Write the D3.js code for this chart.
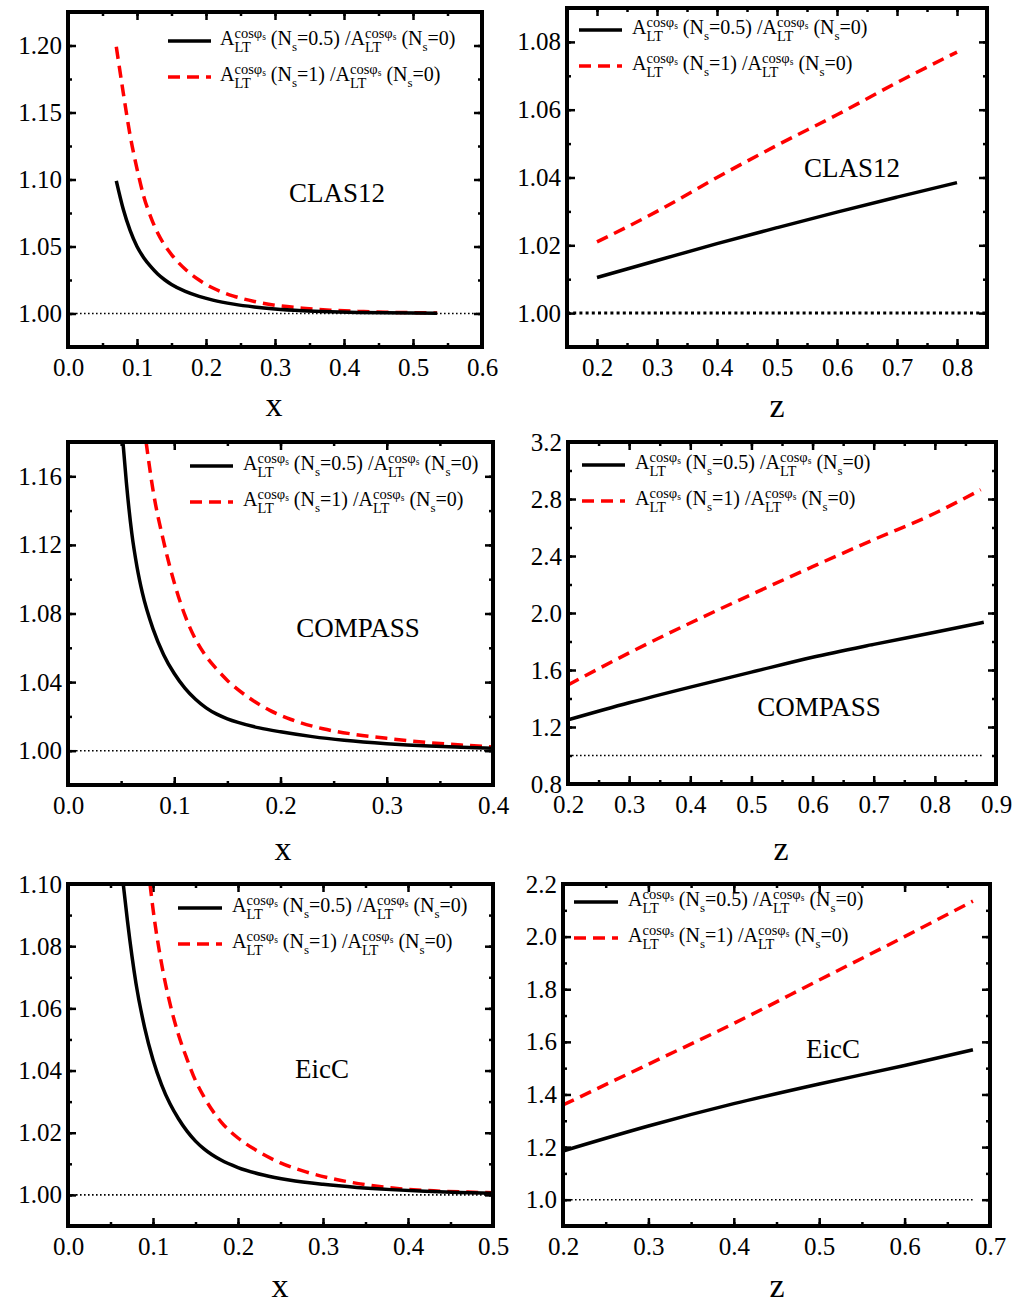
<!DOCTYPE html>
<html>
<head>
<meta charset="utf-8">
<script src="https://cdn.jsdelivr.net/npm/d3@7"></script>
<style>
  body { margin: 0; background: #fff; }
  svg { display: block; font-family: "Liberation Serif", "Times New Roman", serif; }
  text { white-space: pre; }
</style>
</head>
<body>
<svg id="chart" width="1022" height="1305"></svg>
<script>
// ---- data: [x or z, ratio] ----
const clasXHalf = [[0.07,1.099],[0.08,1.078],[0.09,1.062],[0.10,1.050],[0.11,1.0415],[0.12,1.035],[0.13,1.0295],[0.14,1.0252],[0.15,1.0217],[0.17,1.0165],[0.19,1.0128],[0.21,1.0100],[0.24,1.0070],[0.27,1.0049],[0.30,1.0034],[0.34,1.0021],[0.38,1.0013],[0.42,1.0008],[0.46,1.0005],[0.50,1.0003],[0.535,1.0002]];
const clasXOne  = [[0.07,1.199],[0.08,1.165],[0.09,1.133],[0.10,1.108],[0.11,1.087],[0.12,1.072],[0.13,1.060],[0.14,1.051],[0.15,1.044],[0.17,1.033],[0.19,1.025],[0.21,1.019],[0.24,1.013],[0.27,1.009],[0.30,1.0062],[0.34,1.0040],[0.38,1.0025],[0.42,1.0016],[0.46,1.0010],[0.50,1.0006],[0.535,1.0004]];
const clasZHalf = [[0.2,1.0105],[0.3,1.0155],[0.4,1.0205],[0.5,1.0252],[0.6,1.0298],[0.7,1.0342],[0.8,1.0385]];
const clasZOne  = [[0.2,1.021],[0.3,1.030],[0.4,1.040],[0.5,1.0495],[0.6,1.0585],[0.7,1.068],[0.8,1.077]];

const compXHalf = [[0.0517,1.18],[0.055,1.156],[0.06,1.127],[0.065,1.107],[0.07,1.092],[0.08,1.071],[0.09,1.056],[0.10,1.045],[0.11,1.0365],[0.12,1.030],[0.13,1.025],[0.14,1.0213],[0.15,1.0186],[0.16,1.0165],[0.18,1.0133],[0.20,1.011],[0.23,1.0082],[0.26,1.0061],[0.30,1.0041],[0.34,1.0027],[0.37,1.002],[0.40,1.0014]];
const compXOne  = [[0.0735,1.18],[0.08,1.152],[0.09,1.122],[0.10,1.098],[0.11,1.079],[0.12,1.065],[0.13,1.055],[0.14,1.0475],[0.15,1.041],[0.17,1.031],[0.19,1.0235],[0.21,1.0182],[0.24,1.0128],[0.27,1.0095],[0.30,1.0072],[0.34,1.0047],[0.37,1.0033],[0.40,1.0022]];
const compZHalf = [[0.2,1.25],[0.3,1.37],[0.4,1.48],[0.5,1.585],[0.6,1.69],[0.7,1.78],[0.8,1.865],[0.88,1.935]];
const compZOne  = [[0.2,1.495],[0.3,1.72],[0.4,1.93],[0.5,2.13],[0.6,2.325],[0.7,2.515],[0.8,2.70],[0.875,2.865]];

const eicXHalf = [[0.065,1.10],[0.07,1.088],[0.08,1.068],[0.09,1.054],[0.10,1.0435],[0.11,1.0355],[0.12,1.0293],[0.13,1.0245],[0.14,1.0205],[0.15,1.0173],[0.16,1.0148],[0.18,1.0112],[0.20,1.0088],[0.23,1.0064],[0.26,1.0048],[0.30,1.0034],[0.34,1.0024],[0.38,1.0017],[0.42,1.0012],[0.46,1.0008],[0.50,1.0005]];
const eicXOne  = [[0.0965,1.10],[0.10,1.092],[0.11,1.0745],[0.12,1.0615],[0.13,1.0515],[0.14,1.0437],[0.15,1.0368],[0.16,1.0315],[0.18,1.0235],[0.20,1.0183],[0.22,1.0146],[0.25,1.0103],[0.28,1.0074],[0.31,1.0053],[0.35,1.0033],[0.39,1.002],[0.43,1.0013],[0.47,1.0009],[0.50,1.0007]];
const eicZHalf = [[0.2,1.185],[0.3,1.28],[0.4,1.365],[0.5,1.44],[0.6,1.51],[0.68,1.57]];
const eicZOne  = [[0.2,1.36],[0.3,1.515],[0.4,1.67],[0.5,1.835],[0.6,2.0],[0.68,2.135]];

// ---- panel layout ----
const panels = [
  { name: 'CLAS12', box: { l: 68, t: 12, r: 482, b: 347 }, xDomain: [0, 0.6], yDomain: [0.975, 1.225],
    xTicks: [0, 0.6, 0.1], xMinor: [0, 0.6, 0.05], yTicks: [1.0, 1.2, 0.05], yMinor: [0.975, 1.225, 0.025], yFmt: '.2f',
    half: clasXHalf, one: clasXOne, ref: [0, 0.6], refStyle: 'thin', label: [337, 202], title: 'x', titleX: 274, titleY: 416,
    legend: { x0: 168, x1: 211, y: 41, tx: 220 } },
  { name: 'CLAS12', box: { l: 567, t: 8, r: 987, b: 347 }, xDomain: [0.15, 0.85], yDomain: [0.99, 1.09],
    xTicks: [0.2, 0.8, 0.1], xMinor: [0.15, 0.85, 0.05], yTicks: [1.0, 1.08, 0.02], yMinor: [0.99, 1.09, 0.01], yFmt: '.2f',
    half: clasZHalf, one: clasZOne, ref: [0.15, 0.85], refStyle: 'thick', label: [852, 177], title: 'z', titleX: 777, titleY: 417,
    legend: { x0: 579, x1: 622, y: 30, tx: 632 } },
  { name: 'COMPASS', box: { l: 68, t: 442, r: 493, b: 785 }, xDomain: [0, 0.4], yDomain: [0.98, 1.18],
    xTicks: [0, 0.4, 0.1], xMinor: [0, 0.4, 0.05], yTicks: [1.0, 1.16, 0.04], yMinor: [0.98, 1.18, 0.02], yFmt: '.2f',
    half: compXHalf, one: compXOne, ref: [0, 0.4], refStyle: 'thin', label: [358, 637], title: 'x', titleX: 283, titleY: 860,
    legend: { x0: 190, x1: 233, y: 466, tx: 243 } },
  { name: 'COMPASS', box: { l: 568, t: 442, r: 996, b: 784 }, xDomain: [0.2, 0.9], yDomain: [0.8, 3.2],
    xTicks: [0.2, 0.9, 0.1], xMinor: [0.2, 0.9, 0.05], yTicks: [0.8, 3.2, 0.4], yMinor: [0.8, 3.2, 0.2], yFmt: '.1f',
    half: compZHalf, one: compZOne, ref: [0.2, 0.88], refStyle: 'thin', label: [819, 716], title: 'z', titleX: 781, titleY: 860,
    legend: { x0: 582, x1: 625, y: 465, tx: 635 } },
  { name: 'EicC', box: { l: 68, t: 884, r: 493, b: 1226 }, xDomain: [0, 0.5], yDomain: [0.99, 1.10],
    xTicks: [0, 0.5, 0.1], xMinor: [0, 0.5, 0.05], yTicks: [1.0, 1.1, 0.02], yMinor: [0.99, 1.1, 0.01], yFmt: '.2f',
    half: eicXHalf, one: eicXOne, ref: [0, 0.5], refStyle: 'thin', label: [322, 1078], title: 'x', titleX: 280, titleY: 1297,
    legend: { x0: 178, x1: 222, y: 908, tx: 232 } },
  { name: 'EicC', box: { l: 563, t: 884, r: 990, b: 1226 }, xDomain: [0.2, 0.7], yDomain: [0.9, 2.2],
    xTicks: [0.2, 0.7, 0.1], xMinor: [0.2, 0.7, 0.05], yTicks: [1.0, 2.2, 0.2], yMinor: [0.9, 2.2, 0.1], yFmt: '.1f',
    half: eicZHalf, one: eicZOne, ref: [0.2, 0.68], refStyle: 'thin', label: [833, 1058], title: 'z', titleX: 777, titleY: 1297,
    legend: { x0: 574, x1: 618, y: 902, tx: 628 } },
];

const svg = d3.select('#chart');
const RED = '#ff0000';
const DASH = '12,7';
const SERIF = '"Liberation Serif", "Times New Roman", serif';

function steps([a, b, s]) {
  const n = Math.round((b - a) / s);
  return d3.range(n + 1).map((i) => +(a + i * s).toFixed(5));
}

// A^{cosφs}_{LT} (N_s=ns) /A^{cosφs}_{LT} (N_s=0)
function ratioLabel(g, x, y, ns) {
  const t = g.append('text').attr('x', x).attr('y', y).attr('font-size', 20);
  let shift = 0;
  const add = (str, size, off, dx) => {
    const s = t.append('tspan').text(str).attr('dy', off - shift);
    if (size) s.attr('font-size', size);
    if (dx) s.attr('dx', dx);
    shift = off;
    return s;
  };
  const stack = () => {
    const a = add('cosφ', 14.5, -7.5);
    const b = add('s', 9.5, -5.5);
    const supW = a.node().getComputedTextLength() + b.node().getComputedTextLength();
    const c = add('LT', 14.5, 7, -supW);
    return supW - c.node().getComputedTextLength();
  };
  add('A', null, 0);
  let gap = stack();
  add(' (N', null, 0, gap);
  add('s', 13, 6);
  add(`=${ns}) /A`, null, 0);
  gap = stack();
  add(' (N', null, 0, gap);
  add('s', 13, 6);
  add('=0)', null, 0);
}

panels.forEach((p, i) => {
  const { l, t, r, b } = p.box;
  const x = d3.scaleLinear().domain(p.xDomain).range([l, r]);
  const y = d3.scaleLinear().domain(p.yDomain).range([b, t]);
  const g = svg.append('g');

  g.append('clipPath').attr('id', `clip${i}`)
    .append('rect').attr('x', l).attr('y', t).attr('width', r - l).attr('height', b - t);

  // ticks, all four sides, pointing inward
  const tickStyle = (sel) => {
    sel.attr('font-family', SERIF).attr('font-size', 25);
    sel.select('.domain').remove();
    sel.selectAll('line').attr('stroke', '#000').attr('stroke-width', 2.5);
    sel.selectAll('text').attr('fill', '#000');
  };
  const xMaj = steps(p.xTicks), xMin = steps(p.xMinor);
  const yMaj = steps(p.yTicks), yMin = steps(p.yMinor);

  g.append('g').attr('transform', `translate(0,${b})`)
    .call(d3.axisBottom(x).tickValues(xMin).tickSize(-4).tickFormat(''))
    .call(tickStyle);
  g.append('g').attr('transform', `translate(0,${t})`)
    .call(d3.axisTop(x).tickValues(xMin).tickSize(-4).tickFormat(''))
    .call(tickStyle);
  g.append('g').attr('transform', `translate(${l},0)`)
    .call(d3.axisLeft(y).tickValues(yMin).tickSize(-4).tickFormat(''))
    .call(tickStyle);
  g.append('g').attr('transform', `translate(${r},0)`)
    .call(d3.axisRight(y).tickValues(yMin).tickSize(-4).tickFormat(''))
    .call(tickStyle);

  g.append('g').attr('transform', `translate(0,${b})`)
    .call(d3.axisBottom(x).tickValues(xMaj).tickSize(-8).tickPadding(11).tickFormat(d3.format('.1f')))
    .call(tickStyle);
  g.append('g').attr('transform', `translate(0,${t})`)
    .call(d3.axisTop(x).tickValues(xMaj).tickSize(-8).tickFormat(''))
    .call(tickStyle);
  g.append('g').attr('transform', `translate(${l},0)`)
    .call(d3.axisLeft(y).tickValues(yMaj).tickSize(-8).tickPadding(6).tickFormat(d3.format(p.yFmt)))
    .call(tickStyle);
  g.append('g').attr('transform', `translate(${r},0)`)
    .call(d3.axisRight(y).tickValues(yMaj).tickSize(-8).tickFormat(''))
    .call(tickStyle);

  // reference line at 1
  const thick = p.refStyle === 'thick';
  g.append('line')
    .attr('x1', x(p.ref[0])).attr('x2', x(p.ref[1]))
    .attr('y1', y(1)).attr('y2', y(1))
    .attr('stroke', '#000')
    .attr('stroke-width', thick ? 3 : 1.6)
    .attr('stroke-dasharray', thick ? '3,3.2' : '1.6,2.4');

  const line = d3.line().x((d) => x(d[0])).y((d) => y(d[1])).curve(d3.curveMonotoneX);
  const curves = g.append('g').attr('clip-path', `url(#clip${i})`);
  curves.append('path').datum(p.one)
    .attr('d', line).attr('fill', 'none')
    .attr('stroke', RED).attr('stroke-width', 3.5).attr('stroke-dasharray', DASH);
  curves.append('path').datum(p.half)
    .attr('d', line).attr('fill', 'none')
    .attr('stroke', '#000').attr('stroke-width', 3.5);

  // frame
  g.append('rect').attr('x', l).attr('y', t).attr('width', r - l).attr('height', b - t)
    .attr('fill', 'none').attr('stroke', '#000').attr('stroke-width', 4);

  // legend
  const lg = g.append('g');
  const rows = [
    { y: p.legend.y, ns: '0.5', color: '#000', dash: null },
    { y: p.legend.y + 36, ns: '1', color: RED, dash: DASH },
  ];
  rows.forEach((row) => {
    lg.append('line')
      .attr('x1', p.legend.x0).attr('x2', p.legend.x1)
      .attr('y1', row.y).attr('y2', row.y)
      .attr('stroke', row.color).attr('stroke-width', 3.5)
      .attr('stroke-dasharray', row.dash);
    ratioLabel(lg, p.legend.tx, row.y + 4, row.ns);
  });

  // experiment label
  g.append('text')
    .attr('x', p.label[0]).attr('y', p.label[1])
    .attr('text-anchor', 'middle').attr('font-size', 27)
    .text(p.name);

  // axis title
  g.append('text')
    .attr('x', p.titleX).attr('y', p.titleY)
    .attr('text-anchor', 'middle').attr('font-size', 34)
    .text(p.title);
});
</script>
</body>
</html>
